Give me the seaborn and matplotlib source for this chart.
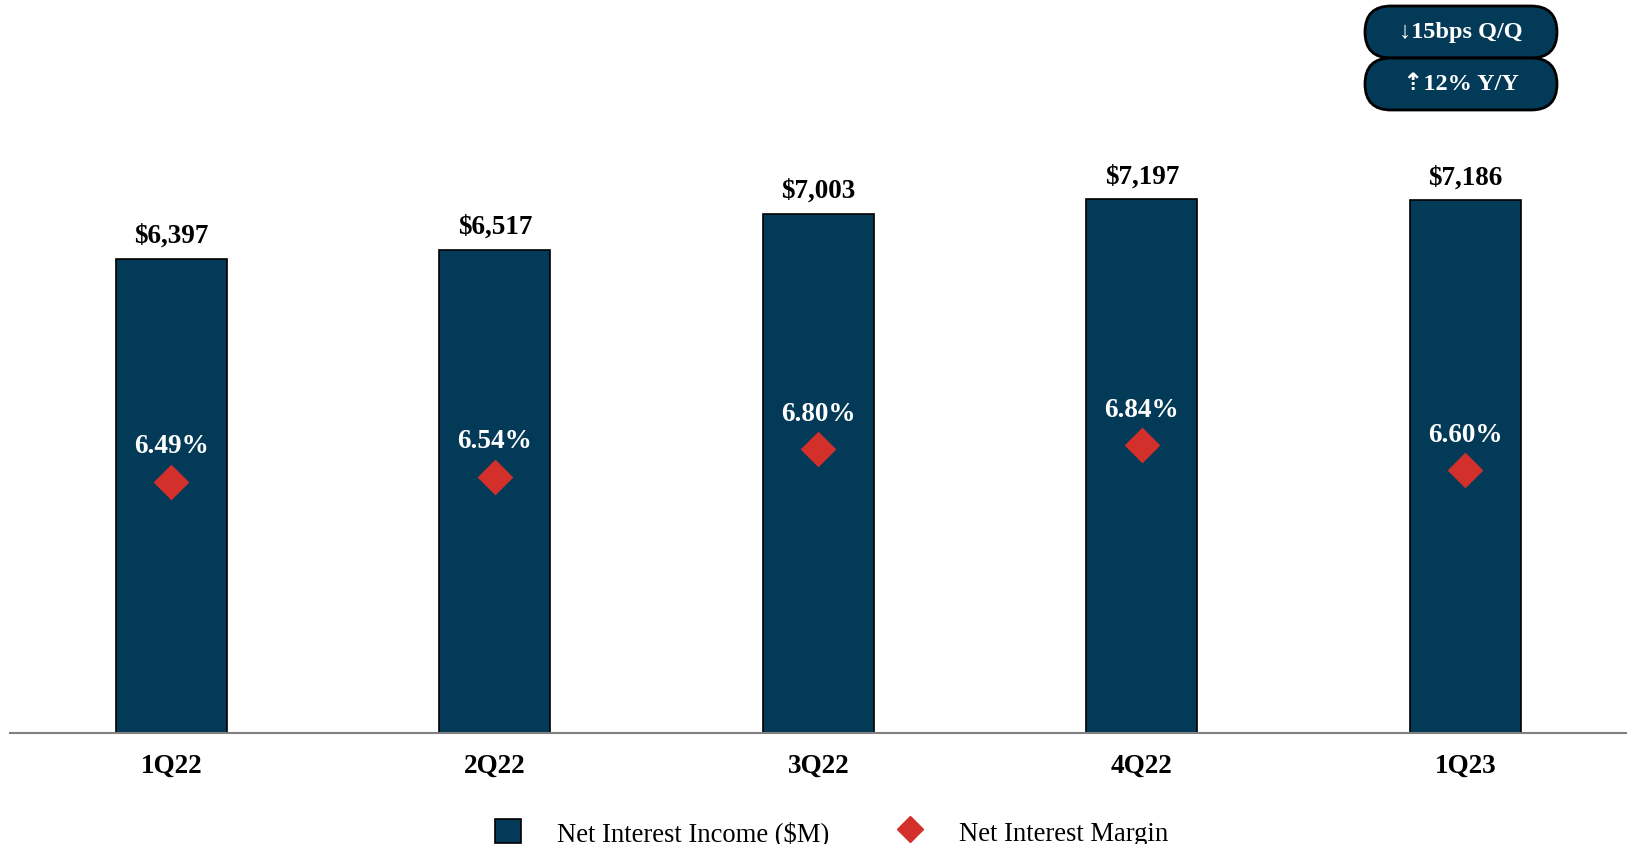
import matplotlib
matplotlib.use("Agg")
import matplotlib.pyplot as plt
import seaborn as sns
import pandas as pd
from matplotlib.patches import FancyBboxPatch, Patch
from matplotlib.lines import Line2D

quarters = ["1Q22", "2Q22", "3Q22", "4Q22", "1Q23"]
net_interest_income = [6397, 6517, 7003, 7197, 7186]
net_interest_margin = [6.49, 6.54, 6.80, 6.84, 6.60]
badge_texts = ["\u219315bps Q/Q", "\u21e112% Y/Y"]
legend_labels = ["Net Interest Income ($M)", "Net Interest Margin"]

NAVY = "#033a57"
RED = "#d3302b"
SERIF = ["Liberation Serif", "DejaVu Serif"]

sns.set_theme(style="white")
plt.rcParams["font.family"] = SERIF
plt.rcParams["text.color"] = "black"
plt.rcParams["xtick.color"] = "black"

df = pd.DataFrame({"quarter": quarters, "nii": net_interest_income, "nim": net_interest_margin})

fig = plt.figure(figsize=(16.27, 8.45), dpi=100)
ax = fig.add_axes([0.006, 0.131, 0.994, 0.869])

sns.barplot(data=df, x="quarter", y="nii", ax=ax, color=NAVY, width=0.343,
            edgecolor="black", linewidth=1.2, saturation=1)
ax.set_xlim(-0.5, 4.5)
ax.set_ylim(0, 9900)

for i, v in enumerate(net_interest_income):
    ax.annotate(f"${v:,}", (i, v), xytext=(0, 8), textcoords="offset points",
                ha="center", va="bottom", fontsize=19.5, fontweight="bold", color="black")

ax2 = ax.twinx()
ax2.set_ylim(4.083, 11.11)
sns.scatterplot(data=df, x="quarter", y="nim", ax=ax2, marker="D", s=330,
                color=RED, edgecolor=RED, linewidth=0, zorder=5, legend=False)
for i, m in enumerate(net_interest_margin):
    ax2.annotate(f"{m:.2f}%", (i, m), xytext=(0, 17), textcoords="offset points",
                 ha="center", va="bottom", fontsize=19.5, fontweight="bold", color="white")

for a in (ax, ax2):
    a.set_xlabel("")
    a.set_ylabel("")
    a.set_yticks([])
    for side in ("top", "left", "right", "bottom"):
        a.spines[side].set_visible(False)

ax.spines["bottom"].set_visible(True)
ax.spines["bottom"].set_color("#808080")
ax.spines["bottom"].set_linewidth(1.5)
ax.tick_params(axis="x", length=0, pad=14, colors="black")
for lbl in ax.get_xticklabels():
    lbl.set_fontweight("bold")
    lbl.set_fontsize(19.5)
    lbl.set_color("black")

handles = [
    Patch(facecolor=NAVY, edgecolor="black", linewidth=1.2),
    Line2D([], [], marker="D", linestyle="none", color=RED, markersize=13),
]
fig.legend(handles, legend_labels, loc="center", bbox_to_anchor=(0.511, 0.014), ncol=2,
           frameon=False, handlelength=1.0, handleheight=1.0,
           handletextpad=1.35, columnspacing=2.5, labelcolor="black",
           prop={"family": SERIF, "size": 19.2})

# summary badges, drawn in inch coordinates so the pill ends stay round
badge_rows = [(7.86, 0.52), (7.34, 0.52)]
for (y0, h), txt in zip(badge_rows, badge_texts):
    pill = FancyBboxPatch((13.65, y0), 1.92, h, boxstyle=f"round,pad=0,rounding_size={h/2}",
                          transform=fig.dpi_scale_trans, facecolor=NAVY,
                          edgecolor="black", linewidth=2.0, zorder=10)
    fig.add_artist(pill)
    fig.text((13.65 + 0.96) / 16.27, (y0 + h / 2) / 8.45, txt, ha="center", va="center",
             color="white", fontsize=17.5, fontweight="bold",
             family=["Liberation Serif", "DejaVu Sans"], zorder=11)

fig.savefig("out.png", dpi=100)
